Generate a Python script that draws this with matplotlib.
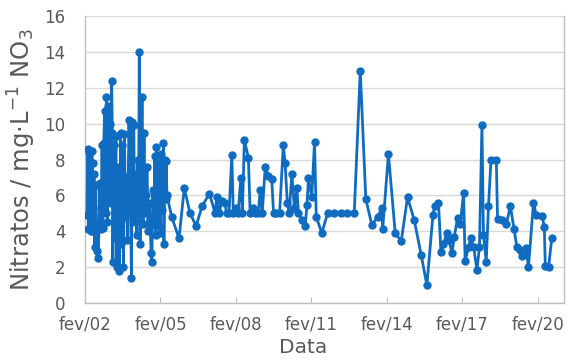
import matplotlib
matplotlib.use("Agg")
import matplotlib.pyplot as plt
import numpy as np

# Intensive sampling period (2002-2005), decimal years
early_year = [
    2002.16, 2002.19, 2002.22, 2002.26, 2002.29, 2002.32, 2002.35, 2002.38, 2002.41, 2002.44,
    2002.47, 2002.51, 2002.55, 2002.60, 2002.64,
    2002.67, 2002.70, 2002.73, 2002.76, 2002.79, 2002.83,
    2002.86, 2002.90, 2002.93, 2002.97, 2003.00, 2003.04, 2003.08, 2003.11, 2003.14,
    2003.17, 2003.19, 2003.22, 2003.25, 2003.28, 2003.31, 2003.34, 2003.38, 2003.42, 2003.45, 2003.50,
    2003.53, 2003.57, 2003.61, 2003.65, 2003.69, 2003.73, 2003.77, 2003.83, 2003.88, 2003.93,
    2003.96, 2003.99, 2004.02, 2004.06, 2004.10, 2004.14, 2004.18, 2004.21, 2004.24, 2004.27,
    2004.31, 2004.35, 2004.39, 2004.43, 2004.46, 2004.50, 2004.55, 2004.59, 2004.63, 2004.67,
    2004.71, 2004.74, 2004.78, 2004.82, 2004.86, 2004.89, 2004.92, 2004.95, 2004.98, 2005.01,
    2005.04, 2005.07, 2005.10, 2005.13, 2005.17, 2005.20, 2005.22, 2005.26, 2005.29, 2005.31,
    2005.34,
]
early_no3 = [
    4.9, 8.6, 4.1, 8.4, 6.0, 4.0, 8.5, 7.8, 4.0, 7.2,
    3.1, 6.6, 2.9, 2.5, 4.2,
    6.7, 4.1, 5.3, 8.8, 4.2, 8.9,
    10.7, 5.0, 11.5, 4.5, 11.0, 6.2, 10.0, 5.6, 12.4,
    9.5, 2.3, 8.8, 6.0, 3.6, 9.3, 2.0, 7.6, 5.5, 1.8, 9.5,
    3.3, 8.8, 2.0, 9.4, 4.8, 7.0, 3.5, 10.2, 6.5, 1.4,
    10.1, 5.8, 9.9, 4.5, 7.2, 3.8, 8.0, 5.0, 14.0, 3.3,
    6.5, 11.5, 4.4, 9.5, 5.0, 6.0, 7.6, 4.0, 5.6, 4.6,
    2.8, 2.3, 6.3, 4.4, 8.2, 3.8, 8.7, 5.5, 7.8, 4.3,
    6.9, 3.9, 8.3, 5.2, 6.5, 8.9, 3.3, 8.0, 5.8, 7.9,
    6.0,
]

# Routine sampling (2005-2020)
late_year = [
    2005.53, 2005.82, 2006.03, 2006.26, 2006.50, 2006.74, 2007.03, 2007.26, 2007.32, 2007.42,
    2007.52, 2007.65, 2007.71, 2007.81, 2007.92, 2007.98, 2008.09, 2008.17, 2008.28, 2008.34,
    2008.42, 2008.58, 2008.65, 2008.76, 2008.85, 2008.97, 2009.05, 2009.13, 2009.25, 2009.38,
    2009.51, 2009.58, 2009.68, 2009.82, 2009.97, 2010.04, 2010.13, 2010.20, 2010.31, 2010.41,
    2010.51, 2010.57, 2010.71, 2010.84, 2010.91, 2010.97, 2011.10, 2011.21, 2011.28, 2011.50,
    2011.73, 2011.99, 2012.26, 2012.52, 2012.79, 2013.03, 2013.25, 2013.49, 2013.72, 2013.89,
    2013.92, 2014.15, 2014.42, 2014.66, 2014.91, 2015.18, 2015.45, 2015.68, 2015.92, 2015.99,
    2016.14, 2016.24, 2016.34, 2016.48, 2016.55, 2016.68, 2016.77, 2016.90, 2017.01, 2017.14,
    2017.20, 2017.34, 2017.43, 2017.54, 2017.67, 2017.77, 2017.87, 2017.93, 2018.04, 2018.13,
    2018.23, 2018.44, 2018.49, 2018.67, 2018.84, 2019.00, 2019.15, 2019.26, 2019.39, 2019.46,
    2019.63, 2019.72, 2019.92, 2020.03, 2020.26, 2020.35, 2020.39, 2020.52, 2020.65,
]
late_no3 = [
    4.8, 3.6, 6.4, 5.0, 4.3, 5.4, 6.1, 5.0, 5.9, 5.0,
    5.7, 5.6, 5.0, 5.0, 8.25, 5.0, 5.3, 5.0, 6.95, 5.0,
    9.1, 8.1, 5.0, 5.3, 5.0, 5.0, 6.3, 5.0, 7.6, 7.1,
    6.9, 5.0, 5.0, 5.0, 8.8, 7.8, 5.55, 5.0, 7.2, 5.3,
    6.4, 5.0, 4.6, 4.3, 5.45, 6.95, 5.9, 8.95, 4.8, 3.9,
    5.0, 5.0, 5.0, 5.0, 5.0, 12.95, 5.8, 4.35, 4.8, 5.3,
    4.1, 8.3, 3.9, 3.45, 5.9, 4.6, 2.7, 1.0, 4.9, 5.4,
    5.6, 2.85, 3.3, 3.9, 3.5, 2.8, 3.7, 4.75, 4.4, 6.15,
    2.35, 3.1, 3.6, 3.1, 1.85, 3.1, 9.95, 3.8, 2.3, 5.4,
    8.0, 8.0, 4.7, 4.6, 4.4, 5.4, 4.1, 3.1, 2.95, 2.6,
    3.05, 2.0, 5.6, 4.9, 4.85, 4.25, 2.05, 2.0, 3.65,
]

tick_years = [2002, 2005, 2008, 2011, 2014, 2017, 2020]
tick_labels = ["fev/02", "fev/05", "fev/08", "fev/11", "fev/14", "fev/17", "fev/20"]

text_gray = "#595959"
line_blue = "#0f6cc0"

years = np.array(early_year + late_year)
no3 = np.array(early_no3 + late_no3)

fig = plt.figure(figsize=(5.67, 3.58), dpi=100)
ax = fig.add_axes([0.150, 0.1536, 0.845, 0.8017])

ax.plot(years, no3, color=line_blue, lw=2.0, marker="o", ms=5,
        markeredgecolor=line_blue, markerfacecolor=line_blue, zorder=3)

# February of each tick year
feb = 1 / 12
ax.set_xlim(2002 + feb, 2021.14)
ax.set_ylim(0, 16)
ax.set_xticks([y + feb for y in tick_years])
ax.set_xticklabels(tick_labels)
ax.set_yticks(np.arange(0, 17, 2))

ax.yaxis.grid(True, color="#d9d9d9", lw=1.0)
ax.set_axisbelow(True)

for side in ["left", "bottom", "right"]:
    ax.spines[side].set_color("#bfbfbf")
    ax.spines[side].set_linewidth(1.0)
ax.spines["top"].set_visible(False)

ax.tick_params(axis="y", length=0, pad=14, labelsize=12, labelcolor=text_gray)
ax.tick_params(axis="x", direction="in", length=4, color="#bfbfbf", pad=9,
               labelsize=12, labelcolor=text_gray)

ax.set_ylabel(r"Nitratos / mg$\cdot$L$^{\mathregular{-1}}$ NO$_{\mathregular{3}}$",
              fontsize=17.5, color=text_gray)
ax.yaxis.set_label_coords(-0.098, 0.5)
ax.set_xlabel("Data", fontsize=14.5, color=text_gray)
ax.xaxis.set_label_coords(0.455, -0.122)

fig.savefig("out.png", dpi=100)
